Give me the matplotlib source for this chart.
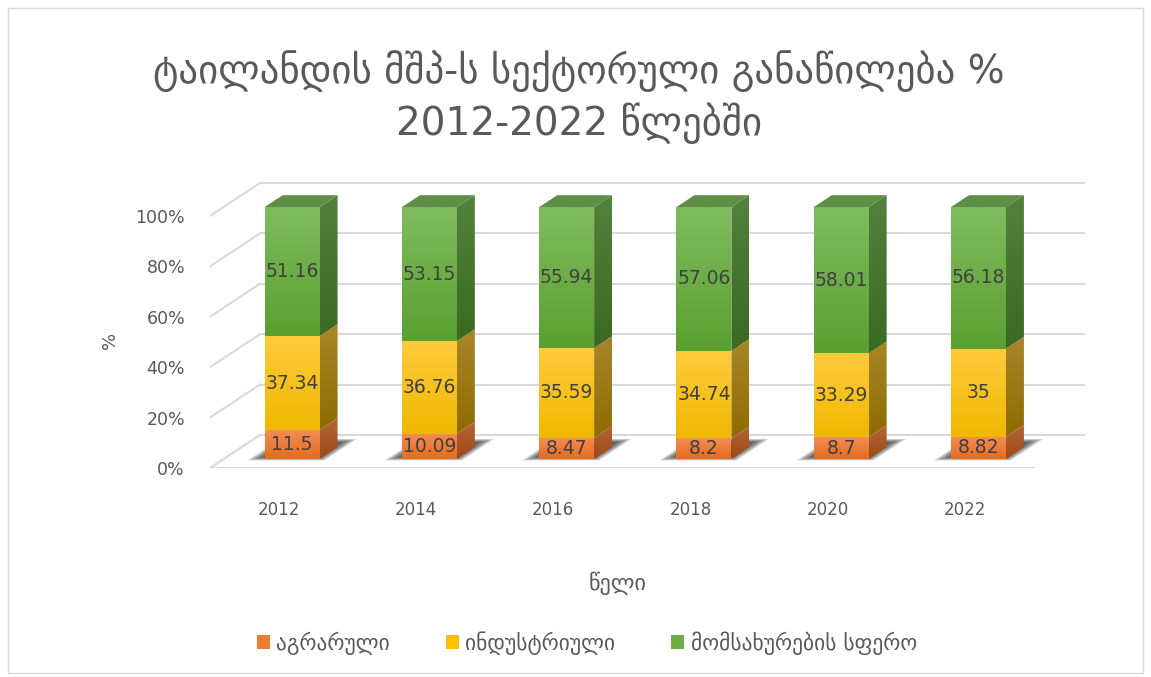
import numpy as np
import matplotlib.pyplot as plt
from matplotlib.patches import Polygon, Rectangle, Patch
from matplotlib.colors import LinearSegmentedColormap

plt.rcParams['font.family'] = ['DejaVu Sans']

years = ['2012', '2014', '2016', '2018', '2020', '2022']
agrarian = [11.5, 10.09, 8.47, 8.2, 8.7, 8.82]
industry = [37.34, 36.76, 35.59, 34.74, 33.29, 35]
services = [51.16, 53.15, 55.94, 57.06, 58.01, 56.18]
series_names = ['აგრარული', 'ინდუსტრიული', 'მომსახურების სფერო']
yticks = [0, 20, 40, 60, 80, 100]
title = 'ტაილანდის მშპ-ს სექტორული განაწილება %\n2012-2022 წლებში'

# front face (top, bottom), side face (top, bottom), legend colour
front_cols = [('#F58D57', '#E46C1B'), ('#FFCB3D', '#EFB800'), ('#7FBC5F', '#5B9F30')]
side_cols = [('#B4643A', '#9E4A14'), ('#A98628', '#8E6C00'), ('#52823B', '#3A6922')]
top_col = '#5F8E46'
legend_cols = ['#ED7D31', '#FFC000', '#70AD47']
grid_col = '#D9D9D9'
text_col = '#595959'

# fake 3d depth (data units), bar depth slice and width
DX, DY = 0.364, 13.1
T0, T1 = 0.27, 0.63
W = 0.4

fig = plt.figure(figsize=(11.51, 6.77), dpi=100)
ax = fig.add_axes([210 / 1151, 1 - 468 / 677, (1095.4 - 210) / 1151, (468 - 180.2) / 677])
ax.set_xlim(-0.5, 5.95)
ax.set_ylim(0, 114.2)
for s in ax.spines.values():
    s.set_visible(False)

n = len(years)
x = np.arange(n)

# walls and grid
ax.plot([-0.5, n - 0.5], [0, 0], color=grid_col, lw=1.5, zorder=1)
for p in yticks:
    ax.plot([-0.5 + DX, n - 0.5 + DX], [p + DY, p + DY], color=grid_col, lw=1.5, zorder=1)
    ax.plot([-0.5, -0.5 + DX], [p, p + DY], color=grid_col, lw=1.5, zorder=1)


def grad_poly(verts, c_top, c_bot, z):
    verts = np.asarray(verts)
    poly = Polygon(verts, closed=True, facecolor='none', edgecolor='none', zorder=z)
    ax.add_patch(poly)
    cmap = LinearSegmentedColormap.from_list('g', [c_top, c_bot])
    im = ax.imshow(np.linspace(0, 1, 128).reshape(-1, 1), cmap=cmap, aspect='auto',
                   extent=[verts[:, 0].min(), verts[:, 0].max(), verts[:, 1].min(), verts[:, 1].max()],
                   origin='upper', interpolation='bilinear', zorder=z)
    im.set_clip_path(poly)


# soft shadows on the floor
for i in x:
    for k in range(8):
        g = 0.013 * k
        x_l = i - 0.31 + g
        x_r = i + 0.25 - g
        t_a = 0.23 + g * 1.4
        t_b = 0.88 - g * 1.4
        pts = [(x_l + t_a * DX, t_a * DY), (x_r + t_a * DX, t_a * DY),
               (x_r + t_b * DX, t_b * DY), (x_l + t_b * DX, t_b * DY)]
        ax.add_patch(Polygon(pts, closed=True, facecolor='#2a2a2a', edgecolor='none',
                             alpha=0.18, zorder=2))

series = [agrarian, industry, services]
bottoms = np.zeros(n)
d_x, d_y = (T1 - T0) * DX, (T1 - T0) * DY
for si, vals in enumerate(series):
    vals = np.asarray(vals, dtype=float)
    for i in x:
        xl = i - W / 2 + T0 * DX
        xr = i + W / 2 + T0 * DX
        y0 = bottoms[i] + T0 * DY
        y1 = bottoms[i] + vals[i] + T0 * DY
        grad_poly([(xl, y0), (xr, y0), (xr, y1), (xl, y1)], *front_cols[si], z=4)
        grad_poly([(xr, y0), (xr + d_x, y0 + d_y), (xr + d_x, y1 + d_y), (xr, y1)],
                  *side_cols[si], z=4)
        if si == len(series) - 1:
            ax.add_patch(Polygon([(xl, y1), (xr, y1), (xr + d_x, y1 + d_y), (xl + d_x, y1 + d_y)],
                                 closed=True, facecolor=top_col, edgecolor='none', zorder=4))
        lab = ('%g' % vals[i])
        ax.text((xl + xr) / 2, (y0 + y1) / 2, lab, ha='center', va='center',
                fontsize=13.5, color='#404040', zorder=6)
    bottoms += vals

ax.set_xticks(x)
ax.set_xticklabels(years, fontsize=12, color=text_col)
ax.set_yticks(yticks)
ax.set_yticklabels(['%d%%' % v for v in yticks], fontsize=12.5, color=text_col)
ax.tick_params(axis='both', length=0)
ax.tick_params(axis='x', pad=24)
ax.tick_params(axis='y', pad=18)

fig.text(0.503, 1 - 97 / 677, title, ha='center', va='center', fontsize=28,
         color=text_col, linespacing=1.3)
fig.text(110 / 1151, 1 - 340 / 677, '%', rotation=90, ha='center', va='center',
         fontsize=13, color=text_col)
fig.text(618 / 1151, 1 - 583 / 677, 'წელი', ha='center', va='center', fontsize=16,
         color=text_col)

handles = [Patch(facecolor=c, edgecolor='none') for c in legend_cols]
fig.legend(handles, series_names, loc='center', bbox_to_anchor=(0.51, 1 - 643 / 677),
           ncol=3, frameon=False, fontsize=15.5, handlelength=0.6, handleheight=0.6,
           handletextpad=0.3, columnspacing=2.6, labelcolor=text_col)

fig.patches.append(Rectangle((8 / 1151, 4 / 677), 1 - 16 / 1151, 1 - 12 / 677,
                             transform=fig.transFigure, facecolor='none',
                             edgecolor='#D9D9D9', lw=1))

fig.savefig('out.png', dpi=100)
